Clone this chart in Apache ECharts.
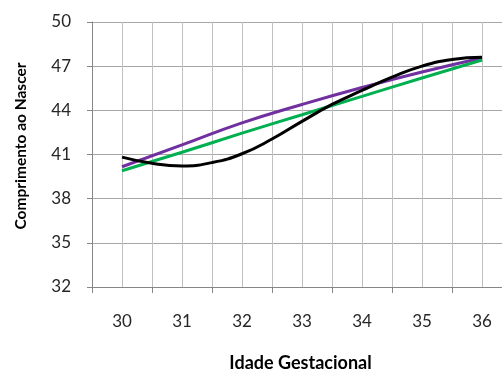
<!DOCTYPE html>
<html>
<head>
<meta charset="utf-8">
<script src="https://cdn.jsdelivr.net/npm/echarts@6/dist/echarts.min.js"></script>
<style>html,body{margin:0;padding:0;background:#fff;overflow:hidden;}#c{width:512px;height:371px;}</style>
</head>
<body>
<div id="c"></div>
<script>
// Data
const xLabels = [30, 31, 32, 33, 34, 35, 36];
const blackX = [30, 30.5, 31, 31.5, 32, 32.5, 33, 33.5, 34, 34.5, 35, 35.5, 36];
const blackY = [40.82, 40.4, 40.22, 40.45, 41.05, 42.05, 43.25, 44.4, 45.35, 46.25, 47.0, 47.45, 47.6];
const purpleY = [40.17, 41.65, 43.15, 44.4, 45.55, 46.6, 47.55];
const greenY = [39.9, 41.15, 42.45, 43.7, 44.95, 46.2, 47.42];
const yTicks = [32, 35, 38, 41, 44, 47, 50];

const FONT = 'Lato';
const chart = echarts.init(document.getElementById('c'), null, {renderer: 'canvas', width: 512, height: 371});
const pair = (xs, ys) => xs.map((x, i) => [x, ys[i]]);

chart.setOption({
  animation: false,
  grid: {left: 92, right: 0, top: 22, bottom: 84, containLabel: false, outerBoundsMode: 'none'},
  xAxis: [{
    type: 'value', min: 29.5, max: 36.5, interval: 0.5,
    axisLine: {show: true, lineStyle: {color: '#868686', width: 1}},
    axisTick: {show: false},
    splitLine: {show: true, lineStyle: {color: '#c0c0c0', width: 1}},
    axisLabel: {
      margin: 26, fontFamily: FONT, fontSize: 17, color: '#262626',
      formatter: v => (xLabels.indexOf(v) >= 0 ? String(v) : '')
    }
  }, {
    type: 'value', min: 29.5, max: 36.5, interval: 1, position: 'bottom',
    axisLine: {show: false},
    axisTick: {show: true, length: 6, lineStyle: {color: '#868686'}},
    splitLine: {show: false},
    axisLabel: {show: false}
  }],
  yAxis: {
    type: 'value', min: 32, max: 50, interval: 3,
    axisLine: {show: true, lineStyle: {color: '#868686', width: 1}},
    axisTick: {show: true, length: 5, lineStyle: {color: '#868686'}},
    splitLine: {show: true, lineStyle: {color: '#a6a6a6', width: 1}},
    axisLabel: {margin: 21, fontFamily: FONT, fontSize: 17, color: '#262626',
      formatter: v => (yTicks.indexOf(v) >= 0 ? String(v) : '')}
  },
  graphic: [
    {type: 'text', x: 300.5, y: 363,
     style: {text: 'Idade Gestacional', font: 'bold 18px Lato', fill: '#000', align: 'center', verticalAlign: 'middle'}},
    {type: 'text', x: 20.5, y: 146, rotation: Math.PI / 2,
     style: {text: 'Comprimento ao Nascer', font: 'bold 15.5px Lato', fill: '#000', align: 'center', verticalAlign: 'middle'}}
  ],
  series: [
    {type: 'line', name: 'purple', data: pair(xLabels, purpleY), smooth: true, showSymbol: false,
     lineStyle: {color: '#7030A0', width: 3}},
    {type: 'line', name: 'green', data: pair(xLabels, greenY), smooth: true, showSymbol: false,
     lineStyle: {color: '#00B050', width: 3}},
    {type: 'line', name: 'black', data: pair(blackX, blackY), smooth: true, showSymbol: false,
     lineStyle: {color: '#000000', width: 3}}
  ]
});
</script>
</body>
</html>
